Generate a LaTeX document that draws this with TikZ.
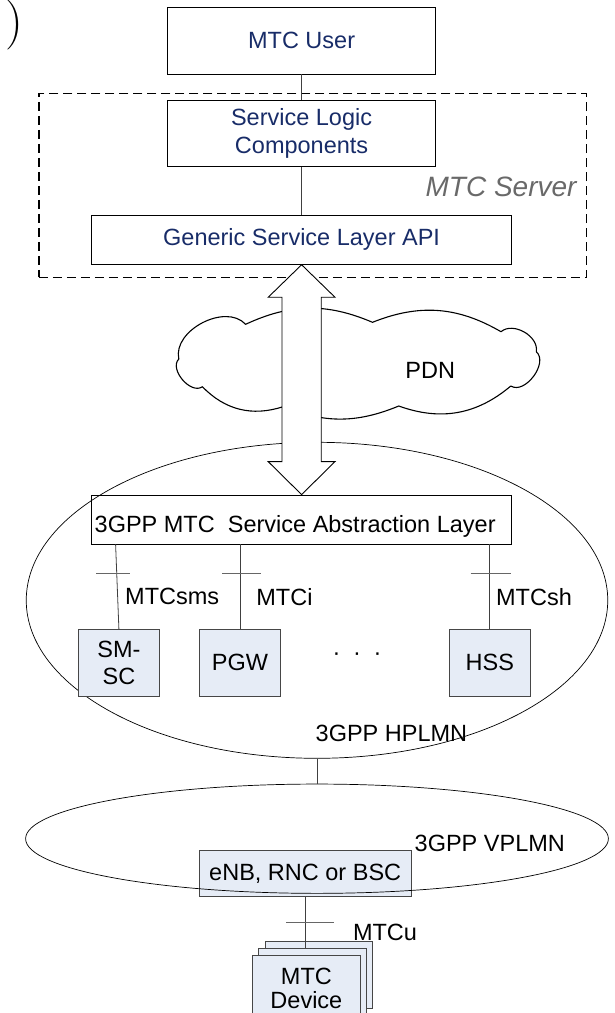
\documentclass[tikz,border=0pt]{standalone}
\usepackage{fontspec}
\setsansfont{Liberation Sans}
\usetikzlibrary{shapes.geometric,calc}
\definecolor{navy}{RGB}{24,44,104}
\definecolor{nefill}{RGB}{230,236,246}
\definecolor{srvgray}{RGB}{105,105,105}
\definecolor{edgegray}{RGB}{70,70,70}
\begin{document}
\begin{tikzpicture}[x=1pt,y=-1pt,
  every node/.style={font=\sffamily\fontsize{23.5}{27}\selectfont, inner sep=0pt},
  topbox/.style={draw=black, line width=0.8pt, text=navy, align=center},
  plainbox/.style={draw=black, line width=0.8pt},
  nebox/.style={draw=edgegray, line width=0.8pt, fill=nefill, align=center,
                minimum width=80.5pt, minimum height=66.7pt},
  devbox/.style={draw=edgegray, line width=0.8pt, fill=nefill, align=center,
                minimum width=107.3pt, minimum height=67pt},
  lbl/.style={anchor=west},
  conn/.style={draw=black!75, line width=0.8pt},
  tickmark/.style={draw=black!60, line width=0.8pt},
  netarea/.style={ellipse, draw=black, line width=0.7pt},
  cloudline/.style={draw=black, line width=1.1pt, line join=round},
  ]
\useasboundingbox (0,0) rectangle (615,1013);

% stray parenthesis
\node[font=\fontsize{50}{50}\selectfont] (paren) at (14,25) {)};

% MTC server part
\node[draw=black, line width=1.1pt, dash pattern=on 9pt off 5pt,
      minimum width=547.7pt, minimum height=184pt] (server) at (312.8,185.3) {};
\node[topbox, minimum width=267.6pt, minimum height=66.7pt] (user) at (301.6,40.7) {MTC User};
\node[topbox, minimum width=267.6pt, minimum height=66.7pt,
      font=\sffamily\fontsize{23.5}{28.3}\selectfont] (slc) at (301.6,133.3) {Service Logic\\Components};
\node[font=\sffamily\itshape\fontsize{28}{30}\selectfont, text=srvgray, anchor=east] (srvlbl) at (576.7,187) {MTC Server};
\node[topbox, minimum width=420pt, minimum height=49.3pt] (gsla) at (301.6,239.7) {Generic Service Layer API};
\draw[conn] (user) -- (slc);
\draw[conn] (slc) -- (gsla);

% PDN cloud
\draw[cloudline]
  (178.8,359) to[bend left=75] (245.6,324.3)
  to[bend left=24] (372.5,322.3)
  to[bend left=26] (501,331.7)
  to[bend left=70] (536.3,351.7)
  to[bend left=85] (510.8,386)
  to[bend left=30] (398.8,406)
  to[bend left=22] (283,406.7)
  to[bend left=32] (202.4,386.7)
  to[bend left=85] cycle;
\node (pdn) at (430.3,370) {PDN};

% HPLMN
\node[netarea, minimum width=581.5pt, minimum height=316pt] (hplmn) at (317,600.3) {};
\node[plainbox, minimum width=420pt, minimum height=49pt] (sal) at (301.6,519.5) {};
\node[anchor=west] (saltext) at (94.5,526.7) {3GPP MTC\ \ Service Abstraction Layer};

% double arrow between server API and SAL
\draw[line width=0.9pt, fill=white, line join=miter]
  (gsla.south) -- ++(33.4,32.5) -- ++(-13.8,0) |- ($(sal.north)+(19.6,-33)$)
  -- ++(13.8,0) -- (sal.north) -- ++(-33.4,-33) -- ++(13.8,0)
  |- ($(gsla.south)+(-19.6,32.5)$) -- ++(-13.8,0) -- cycle;

% network elements
\node[nebox] (smsc) at (118.9,662.7) {SM-\\SC};
\node[nebox] (pgw) at (239.9,662.7) {PGW};
\node[nebox] (hss) at (489.8,662.7) {HSS};
\node (dots) at (357,656.7) {·\hspace{12.7pt}·\hspace{12.7pt}·};

\draw[conn] ($(sal.south west)+(24.4,0)$) -- (smsc.north);
\draw[conn] (pgw.north |- sal.south) -- (pgw.north);
\draw[conn] (hss.north |- sal.south) -- (hss.north);

\coordinate (t1a) at (96.3,573.3);  \coordinate (t1b) at (129.7,573.3);
\coordinate (t2a) at (222,573.3);   \coordinate (t2b) at (261.3,573.3);
\coordinate (t3a) at (470.7,573.3); \coordinate (t3b) at (510.8,573.3);
\draw[tickmark] (t1a) -- (t1b);
\draw[tickmark] (t2a) -- (t2b);
\draw[tickmark] (t3a) -- (t3b);

\node[lbl] (lsms) at (125,596.7) {MTCsms};
\node[lbl] (li) at (256.2,596.7) {MTCi};
\node[lbl] (lsh) at (495.9,596.7) {MTCsh};
\node[lbl] (lhp) at (315.5,733.3) {3GPP HPLMN};

% VPLMN
\node[draw=edgegray, line width=0.8pt, fill=nefill, minimum width=211.7pt, minimum height=46pt] (enb) at (305.2,873.7) {eNB, RNC or BSC};
\node[netarea, minimum width=582.8pt, minimum height=109.3pt] (vplmn) at (317,838.7) {};
\draw[conn] (hplmn.south) -- (vplmn.north);
\node[lbl] (lvp) at (414.5,843.5) {3GPP VPLMN};

% MTC devices (stacked)
\node[devbox] (devback) at (319.2,975.2) {};
\node[devbox] (devmid) at (312.5,981.5) {};
\node[devbox, font=\sffamily\fontsize{23.5}{23.5}\selectfont] (dev) at (306.4,988.5) {MTC\\Device};

\draw[conn] (enb.south) -- (enb.south |- devmid.north);
\coordinate (t4a) at (286,922.7); \coordinate (t4b) at (334,922.7);
\draw[tickmark] (t4a) -- (t4b);
\node[lbl] (lu) at (352.8,932.5) {MTCu};
\end{tikzpicture}
\end{document}
